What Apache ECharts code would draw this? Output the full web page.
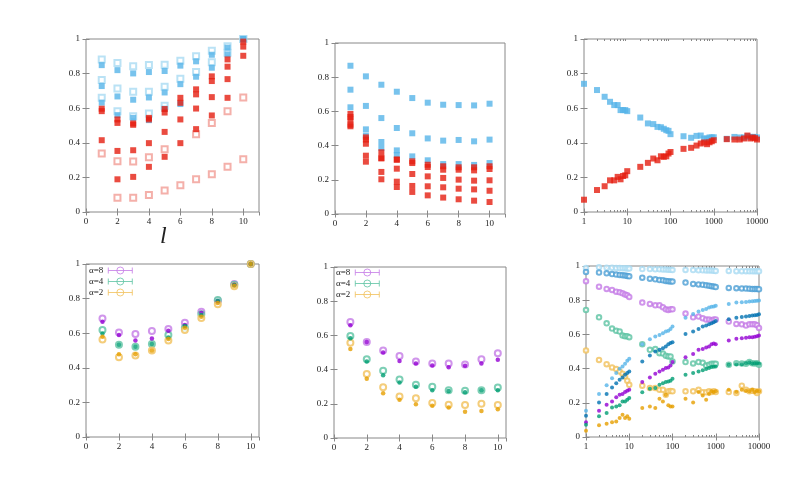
<!DOCTYPE html>
<html><head><meta charset="utf-8">
<script src="https://cdn.jsdelivr.net/npm/echarts@6/dist/echarts.min.js"></script>
<style>html,body{margin:0;padding:0;background:#fff}#c{width:789px;height:498px}</style>
</head><body><div id="c"></div>
<script>
// ---------- shared x values / ticks ----------
const xLin = [1,2,3,4,5,6,7,8,9,10];
const xLog = [1,2,3,4,5,6,7,8,9,10,20,30,40,50,60,70,80,90,100,200,300,400,500,600,700,800,900,1000,2000,3000,4000,5000,6000,7000,8000,9000,10000];
const logMinorTicks = [2,3,4,5,6,7,8,9,20,30,40,50,60,70,80,90,200,300,400,500,600,700,800,900,2000,3000,4000,5000,6000,7000,8000,9000];
const legendNames = ['α=8','α=4','α=2'];

// ---------- panel 1 (top-left) ----------
const p1BlueA = [0.849,0.820,0.801,0.809,0.815,0.846,0.871,0.909,0.950,1.0];
const p1BlueB = [0.728,0.668,0.649,0.662,0.691,0.739,0.782,0.834,0.911,1.0];
const p1BlueC = [0.632,0.560,0.544,0.531,0.597,0.624,null,null,null,null];
const p1LBlueA = [0.882,0.861,0.842,0.849,0.851,0.875,0.900,0.932,0.958,1.0];
const p1LBlueB = [0.763,0.714,0.695,0.695,0.724,0.770,0.809,0.865,0.920,1.0];
const p1LBlueC = [0.660,0.583,0.554,0.569,0.614,null,null,null,null,null];
const p1RedA = [0.597,0.535,0.512,0.544,0.595,0.660,0.709,0.784,0.882,0.985];
const p1RedB = [0.583,0.515,0.504,0.535,0.575,0.631,0.680,0.757,0.840,0.956];
const p1RedC = [0.415,0.353,0.357,0.398,0.463,0.535,0.598,0.664,0.768,0.903];
const p1RedD = [null,0.189,0.203,0.261,0.319,0.398,0.479,0.558,0.660,null];
const p1LRedA = [0.338,0.293,0.292,0.317,0.363,null,0.450,0.514,0.583,0.662];
const p1LRedB = [null,0.083,0.083,0.098,0.125,0.154,0.189,0.218,0.261,0.305];

// ---------- panel 2 (top-middle) ----------
const p2BlueA = [0.867,0.805,0.756,0.715,0.678,0.651,0.639,0.637,0.635,0.645];
const p2BlueB = [0.727,0.632,0.561,0.503,0.472,0.442,0.429,0.433,0.425,0.435];
const p2BlueC = [0.624,0.495,0.421,0.372,0.337,0.314,0.292,0.292,0.287,0.298];
const p2BlueD = [null,0.458,0.386,0.345,null,null,null,null,null,null];
const p2RedA = [0.585,0.448,0.361,0.318,0.308,0.288,0.279,0.273,0.273,0.279];
const p2RedB = [0.567,0.435,0.326,0.318,0.298,0.275,0.259,0.259,0.255,0.263];
const p2RedC = [0.552,0.411,0.326,0.265,0.234,0.220,0.211,0.201,0.195,0.197];
const p2RedD = [0.522,0.341,0.246,0.189,0.164,0.162,0.156,0.148,0.144,0.136];
const p2RedE = [0.513,0.306,0.203,0.158,0.129,0.109,0.096,0.086,0.078,0.070];

// ---------- panel 3 (top-right, log x) ----------
const p3Blue = [0.741,0.705,0.666,0.637,0.618,0.618,0.589,0.589,0.589,0.583,
  0.546,0.512,0.508,0.492,0.490,0.481,0.473,0.469,0.450,
  0.438,0.429,0.440,0.442,0.425,0.425,0.431,0.431,0.432,
  0.423,0.434,0.431,0.431,0.438,0.434,0.434,0.434,0.431];
const p3Red = [0.071,0.127,0.149,0.183,0.183,0.203,0.189,0.208,0.212,0.236,
  0.261,0.284,0.309,0.299,0.322,0.319,0.322,0.338,0.347,
  0.365,0.371,0.384,0.396,0.402,0.392,0.403,0.409,0.415,
  0.421,0.419,0.419,0.425,0.442,0.425,0.431,0.427,0.419];

// ---------- panel 4 (bottom-left) ----------
const p4a8Open = [0.685,0.604,0.595,0.612,0.625,0.660,0.724,0.788,0.884,1.0];
const p4a8Fill = [0.666,0.589,0.558,0.569,0.614,0.647,0.718,0.785,0.880,1.0];
const p4a4Open = [0.618,0.533,0.521,0.537,0.589,0.631,0.710,0.792,0.880,1.0];
const p4a4Fill = [0.598,0.533,0.521,0.537,0.575,0.641,0.705,0.788,0.878,1.0];
const p4a2Open = [0.564,0.461,0.471,0.500,0.558,0.618,0.688,0.768,0.872,1.0];
const p4a2Fill = [0.579,0.479,0.479,0.500,0.566,0.631,0.695,0.775,0.875,1.0];

// ---------- panel 5 (bottom-middle) ----------
const p5a8Open = [0.678,0.561,0.512,0.479,0.447,0.436,0.436,0.430,0.461,0.496];
const p5a8Fill = [0.660,0.561,0.500,0.451,0.436,0.424,0.414,0.422,0.436,0.457];
const p5a4Open = [0.596,0.461,0.393,0.342,0.311,0.299,0.279,0.277,0.279,0.295];
const p5a4Fill = [0.584,0.447,0.367,0.324,0.299,0.279,0.275,0.268,0.279,0.279];
const p5a2Open = [0.557,0.375,0.297,0.242,0.232,0.205,0.195,0.193,0.201,0.193];
const p5a2Fill = [0.521,0.346,0.262,0.223,0.197,0.189,0.178,0.154,0.158,0.168];

// ---------- panel 6 (bottom-right, log x) ----------
const p6SkyOpen = [0.988,0.992,0.990,0.990,0.988,0.988,0.987,0.987,0.986,0.985,
  0.982,0.982,0.981,0.981,0.980,0.979,0.978,0.978,0.977,
  0.977,0.976,0.975,0.975,0.974,0.974,0.973,0.972,0.971,
  0.971,0.970,0.970,0.970,0.969,0.969,0.969,0.969,0.969];
const p6BlueOpen = [0.965,0.962,0.957,0.953,0.950,0.948,0.946,0.944,0.942,0.940,
  0.932,0.926,0.922,0.918,0.916,0.913,0.911,0.910,0.909,
  0.903,0.895,0.892,0.890,0.887,0.885,0.882,0.880,0.877,
  0.872,0.870,0.869,0.868,0.867,0.866,0.865,0.865,0.864];
const p6PurpleOpen = [0.911,0.879,0.866,0.860,0.850,0.846,0.840,0.833,0.829,0.819,
  0.786,0.778,0.770,0.770,0.759,0.747,0.743,0.747,0.747,
  0.722,0.700,0.704,0.695,0.687,0.687,0.681,0.687,0.687,
  0.675,0.661,0.659,0.652,0.659,0.659,0.659,0.654,0.638];
const p6GreenOpen = [0.743,0.700,0.665,0.634,0.621,0.617,0.593,0.589,0.589,0.584,
  0.543,0.510,0.514,0.490,0.488,0.475,0.471,0.471,0.442,
  0.438,0.430,0.438,0.434,0.418,0.422,0.428,0.428,0.428,
  0.422,0.432,0.430,0.428,0.438,0.432,0.430,0.432,0.422];
const p6OrangeOpen = [0.506,0.451,0.426,0.407,0.397,0.383,0.370,0.354,0.329,0.305,
  0.300,0.286,0.286,0.276,0.276,0.247,0.267,0.269,0.267,
  0.267,0.267,0.276,0.261,0.261,0.267,0.263,0.267,0.263,
  0.263,0.257,0.300,0.276,0.267,0.271,0.267,0.257,0.267];
const p6SkyFill = [0.154,0.251,0.302,0.344,0.374,0.399,0.412,0.428,0.446,0.457,
  0.543,0.572,0.588,0.597,0.607,0.617,0.622,0.632,0.646,
  0.698,0.720,0.734,0.743,0.749,0.757,0.761,0.763,0.768,
  0.778,0.786,0.788,0.790,0.792,0.794,0.796,0.797,0.798];
const p6BlueFill = [0.125,0.202,0.251,0.290,0.315,0.335,0.348,0.364,0.374,0.383,
  0.442,0.477,0.500,0.510,0.519,0.529,0.543,0.549,0.554,
  0.603,0.617,0.632,0.646,0.652,0.659,0.665,0.671,0.679,
  0.689,0.698,0.702,0.704,0.708,0.710,0.712,0.714,0.718];
const p6PurpleFill = [0.086,0.154,0.189,0.208,0.232,0.247,0.251,0.263,0.270,0.276,
  0.321,0.348,0.370,0.383,0.393,0.403,0.407,0.418,0.438,
  0.467,0.486,0.510,0.514,0.523,0.529,0.543,0.547,0.543,
  0.564,0.574,0.578,0.580,0.584,0.584,0.586,0.589,0.593];
const p6GreenFill = [0.072,0.121,0.140,0.173,0.179,0.185,0.208,0.208,0.218,0.228,
  0.261,0.282,0.286,0.305,0.315,0.321,0.325,0.329,0.340,
  0.364,0.374,0.383,0.391,0.397,0.403,0.409,0.411,0.412,
  0.422,0.426,0.426,0.432,0.436,0.430,0.432,0.432,0.428];
const p6OrangeFill = [0.037,0.068,0.078,0.086,0.091,0.111,0.130,0.111,0.121,0.107,
  0.169,0.179,0.169,0.224,0.208,0.247,0.185,0.179,0.179,
  0.224,0.202,0.263,0.243,0.218,0.251,0.267,0.263,0.267,
  0.276,0.263,0.276,0.271,0.267,0.276,0.263,0.271,0.267];

// ---------- styling ----------
const C = {
  sky:'#56b4e9', skyLight:'#a9dbf3', blue:'#0072b2', blueLight:'#4c9fd4',
  red:'#e51e10', redLight:'#f19c95',
  purple:'#9400d3', purpleLight:'#c47ae6', green:'#009e73', greenLight:'#5cc3a3',
  orange:'#e69f00', orangeLight:'#f1c15a'
};
const legendColors = [C.purpleLight, C.greenLight, C.orangeLight];
const FONT = 'Liberation Serif';
const TICK = {inside:true, length:3.5, lineStyle:{color:'#888', width:1}};
const LABEL = {fontFamily:FONT, fontSize:9, color:'#222'};

const grids = [
  {left:86, top:39, width:173, height:173},
  {left:335, top:43, width:170, height:171},
  {left:584, top:39, width:173, height:173},
  {left:86, top:264, width:173, height:173},
  {left:334, top:267, width:172, height:171},
  {left:586, top:266, width:173, height:171}
].map(g => Object.assign({show:true, borderColor:'#888', borderWidth:1, backgroundColor:'transparent'}, g));

const xAxes = [], yAxes = [], series = [];
function addY(gi) {
  const base = {type:'value', gridIndex:gi, min:0, max:1, interval:0.2, splitLine:{show:false}, axisLine:{show:false}};
  yAxes.push(Object.assign({}, base, {position:'left', axisTick:TICK, axisLabel:Object.assign({margin:6}, LABEL)}));
  const yi = yAxes.length - 1;
  yAxes.push(Object.assign({}, base, {position:'right', axisTick:TICK, axisLabel:{show:false}}));
  return yi;
}
function addLinX(gi, max) {
  const base = {type:'value', gridIndex:gi, min:0, max:max, interval:2, splitLine:{show:false}, axisLine:{show:false}};
  xAxes.push(Object.assign({}, base, {position:'bottom', axisTick:TICK, axisLabel:Object.assign({margin:5, showMaxLabel:false}, LABEL)}));
  const xi = xAxes.length - 1;
  xAxes.push(Object.assign({}, base, {position:'top', axisTick:TICK, axisLabel:{show:false}}));
  return xi;
}
function addLogX(gi) {
  const base = {type:'log', logBase:10, gridIndex:gi, min:1, max:10000, splitLine:{show:false}, axisLine:{show:false}};
  xAxes.push(Object.assign({}, base, {position:'bottom', axisTick:TICK,
    axisLabel:Object.assign({margin:5, formatter: v => String(Math.round(v))}, LABEL)}));
  const xi = xAxes.length - 1;
  xAxes.push(Object.assign({}, base, {position:'top', axisTick:TICK, axisLabel:{show:false}}));
  const minorTicks = logMinorTicks.map(v => Math.log10(v));
  const mbase = {type:'value', gridIndex:gi, min:0, max:4, splitLine:{show:false}, axisLine:{show:false}, axisLabel:{show:false}};
  ['bottom','top'].forEach(p => xAxes.push(Object.assign({}, mbase, {position:p,
    axisTick:{inside:true, length:2, lineStyle:{color:'#888', width:1}, customValues:minorTicks}})));
  return xi;
}
function sc(name, xi, yi, xs, ys, symbol, size, color, bw) {
  const data = xs.map((x, i) => [x, ys[i]]).filter(d => d[1] != null);
  const s = {type:'scatter', name, xAxisIndex:xi, yAxisIndex:yi, data, symbol, symbolSize:size,
    itemStyle:{color:color}, animation:false, emphasis:{disabled:true}};
  if (bw) s.itemStyle.borderWidth = bw;
  series.push(s);
}

// panel 1
let xi = addLinX(0, 11), yi = addY(0);
[p1LBlueA,p1LBlueB,p1LBlueC].forEach((d,k)=>sc('p1lb'+k, xi, yi, xLin, d, 'emptyRect', 6, C.skyLight, 1.2));
[p1LRedA,p1LRedB].forEach((d,k)=>sc('p1lr'+k, xi, yi, xLin, d, 'emptyRect', 6, C.redLight, 1.2));
[p1BlueA,p1BlueB,p1BlueC].forEach((d,k)=>sc('p1b'+k, xi, yi, xLin, d, 'rect', 6, C.sky));
[p1RedA,p1RedB,p1RedC,p1RedD].forEach((d,k)=>sc('p1r'+k, xi, yi, xLin, d, 'rect', 6, C.red));

// panel 2
xi = addLinX(1, 11); yi = addY(1);
[p2BlueA,p2BlueB,p2BlueC,p2BlueD].forEach((d,k)=>sc('p2b'+k, xi, yi, xLin, d, 'rect', 6, C.sky));
[p2RedA,p2RedB,p2RedC,p2RedD,p2RedE].forEach((d,k)=>sc('p2r'+k, xi, yi, xLin, d, 'rect', 6, C.red));

// panel 3
xi = addLogX(2); yi = addY(2);
sc('p3b', xi, yi, xLog, p3Blue, 'rect', 6, C.sky);
sc('p3r', xi, yi, xLog, p3Red, 'rect', 6, C.red);

// panel 4
xi = addLinX(3, 10.5); yi = addY(3);
sc(legendNames[0], xi, yi, xLin, p4a8Open, 'emptyCircle', 6, C.purpleLight, 1);
sc(legendNames[1], xi, yi, xLin, p4a4Open, 'emptyCircle', 6, C.greenLight, 1);
sc(legendNames[2], xi, yi, xLin, p4a2Open, 'emptyCircle', 6, C.orangeLight, 1);
sc('p4f8', xi, yi, xLin, p4a8Fill, 'circle', 4.5, C.purple);
sc('p4f4', xi, yi, xLin, p4a4Fill, 'circle', 4.5, C.green);
sc('p4f2', xi, yi, xLin, p4a2Fill, 'circle', 4.5, C.orange);

// panel 5
xi = addLinX(4, 10.5); yi = addY(4);
sc(legendNames[0], xi, yi, xLin, p5a8Open, 'emptyCircle', 6, C.purpleLight, 1);
sc(legendNames[1], xi, yi, xLin, p5a4Open, 'emptyCircle', 6, C.greenLight, 1);
sc(legendNames[2], xi, yi, xLin, p5a2Open, 'emptyCircle', 6, C.orangeLight, 1);
sc('p5f8', xi, yi, xLin, p5a8Fill, 'circle', 4.5, C.purple);
sc('p5f4', xi, yi, xLin, p5a4Fill, 'circle', 4.5, C.green);
sc('p5f2', xi, yi, xLin, p5a2Fill, 'circle', 4.5, C.orange);

// panel 6
xi = addLogX(5); yi = addY(5);
sc('p6o1', xi, yi, xLog, p6SkyOpen, 'emptyCircle', 4.5, C.skyLight, 1);
sc('p6o2', xi, yi, xLog, p6BlueOpen, 'emptyCircle', 4.5, C.blueLight, 1);
sc('p6o3', xi, yi, xLog, p6PurpleOpen, 'emptyCircle', 4.5, C.purpleLight, 1);
sc('p6o4', xi, yi, xLog, p6GreenOpen, 'emptyCircle', 4.5, C.greenLight, 1);
sc('p6o5', xi, yi, xLog, p6OrangeOpen, 'emptyCircle', 4.5, C.orangeLight, 1);
sc('p6f1', xi, yi, xLog, p6SkyFill, 'circle', 4, C.sky);
sc('p6f2', xi, yi, xLog, p6BlueFill, 'circle', 4, C.blue);
sc('p6f3', xi, yi, xLog, p6PurpleFill, 'circle', 4, C.purple);
sc('p6f4', xi, yi, xLog, p6GreenFill, 'circle', 4, C.green);
sc('p6f5', xi, yi, xLog, p6OrangeFill, 'circle', 4, C.orange);

const legendIcon = 'path://M0,4L24,4M0,1L0,7M24,1L24,7M15.5,4A3.5,3.5,0,1,1,8.5,4A3.5,3.5,0,1,1,15.5,4Z';
function mkLegend(left, top) {
  return {left, top, orient:'vertical', align:'right', itemGap:2, itemWidth:24, itemHeight:7,
    data:legendNames.map((n, k) => ({name:n, icon:legendIcon,
      itemStyle:{color:'#fff', borderColor:legendColors[k], borderWidth:1}})),
    selectedMode:false, padding:0, itemTextGap:4,
    textStyle:{fontFamily:FONT, fontSize:9, color:'#222'}};
}

const chart = echarts.init(document.getElementById('c'), null, {renderer:'canvas'});
chart.setOption({
  animation:false,
  backgroundColor:'#fff',
  grid:grids, xAxis:xAxes, yAxis:yAxes, series,
  legend:[mkLegend(89, 266), mkLegend(336, 268)],
  graphic:[{type:'text', left:160, top:225, style:{text:'l', font:'italic 24px "Liberation Serif"', fill:'#222'}}]
});
</script></body></html>
